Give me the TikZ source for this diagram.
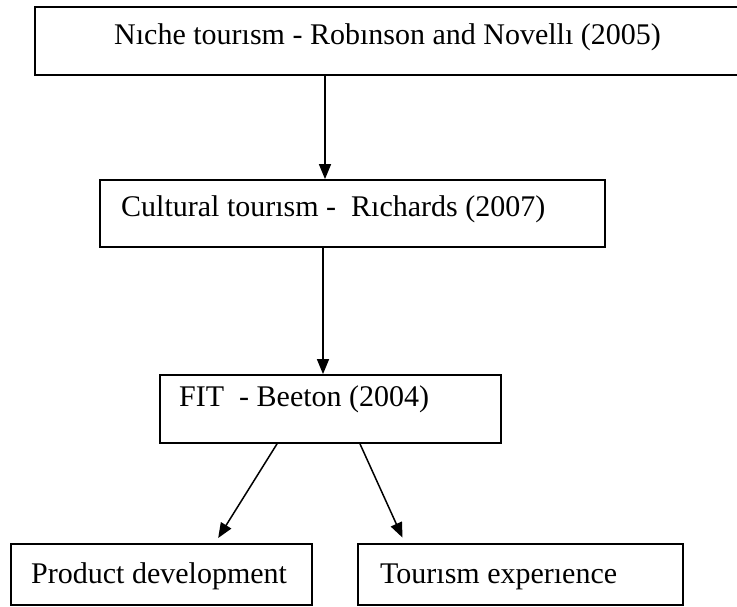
\documentclass[tikz,border=0pt]{standalone}
\usepackage{fontspec}
\setmainfont{Liberation Serif}
\usetikzlibrary{arrows.meta}
\begin{document}
\begin{tikzpicture}[x=1pt,y=-1pt,
  box/.style={draw, line width=1.8pt, rectangle, inner sep=0pt},
  lbl/.style={anchor=base west, inner sep=0pt, font=\fontsize{30}{36}\selectfont},
  arr/.style={line width=1.5pt, -{Triangle[length=15pt,width=12pt]}}]
\useasboundingbox (0,0) rectangle (737,607);
% boxes
\node[box, minimum width=705pt, minimum height=68pt] (top) at (387.5,41) {};
\node[box, minimum width=505pt, minimum height=67pt] (cult) at (352.5,213.5) {};
\node[box, minimum width=341pt, minimum height=68pt] (fit) at (330.5,409) {};
\node[box, minimum width=301pt, minimum height=61pt] (prod) at (161.5,574.5) {};
\node[box, minimum width=325pt, minimum height=61pt] (tour) at (520.5,574.5) {};
% texts
\node[lbl] (ttop) at (114,45) {Nıche tourısm - Robınson and Novellı (2005)};
\node[lbl] (tcult) at (121,217) {Cultural tourısm -\ \ Rıchards (2007)};
\node[lbl] (tfit) at (179,406) {FIT\ \ - Beeton (2004)};
\node[lbl] (tprod) at (31,583) {Product development};
\node[lbl] (ttour) at (380,583) {Tourısm experıence};
% connector anchors
\coordinate (c1) at (325,0);
\coordinate (c2) at (323,0);
\coordinate (l1) at (277,0);
\coordinate (l2) at (215,0);
\coordinate (r1) at (360,0);
\coordinate (r2) at (405,0);
% arrows
\draw[arr] (top.south -| c1) -- (cult.north -| c1);
\draw[arr] (cult.south -| c2) -- (fit.north -| c2);
\draw[arr, shorten >=6pt] (fit.south -| l1) -- (prod.north -| l2);
\draw[arr, shorten >=6pt] (fit.south -| r1) -- (tour.north -| r2);
\end{tikzpicture}
\end{document}
